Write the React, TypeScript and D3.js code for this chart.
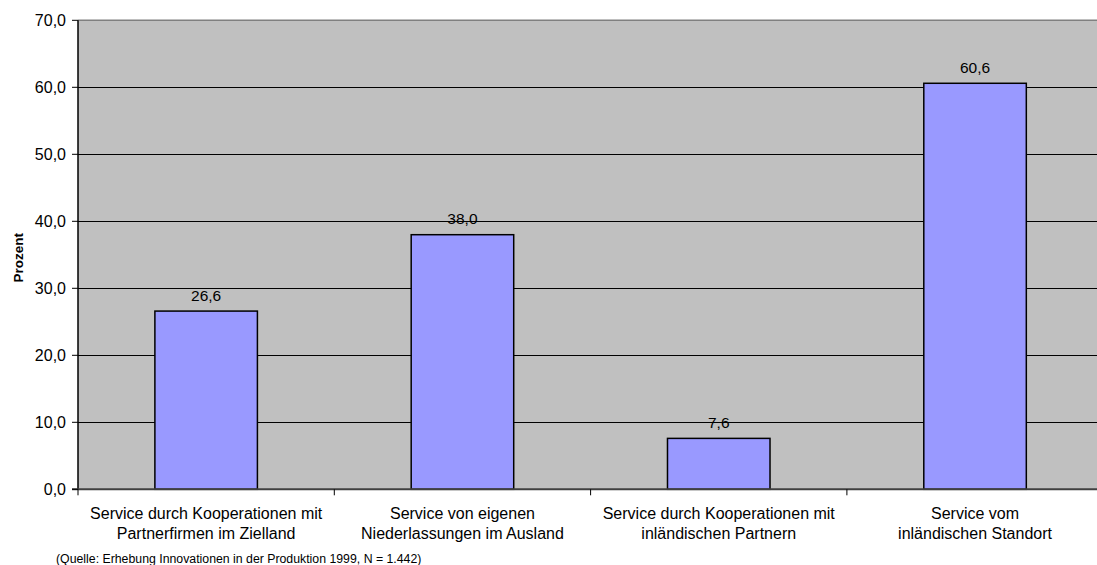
import React from "react";
import * as d3 from "d3";

const categories: string[][] = [
  ["Service durch Kooperationen mit", "Partnerfirmen im Zielland"],
  ["Service von eigenen", "Niederlassungen im Ausland"],
  ["Service durch Kooperationen mit", "inländischen Partnern"],
  ["Service vom", "inländischen Standort"],
];
const values: number[] = [26.6, 38.0, 7.6, 60.6];
const yTicks: number[] = [0, 10, 20, 30, 40, 50, 60, 70];
const yLabel = "Prozent";
const source = "(Quelle: Erhebung Innovationen in der Produktion 1999, N = 1.442)";

const fmt = (v: number) => v.toFixed(1).replace(".", ",");

export default function App() {
  const W = 1097, H = 565;
  const left = 78, top = 20.3, bottom = 489.3;
  const bandW = 256.3;
  const right = left + bandW * categories.length;
  const x = d3.scaleBand<number>().domain(d3.range(categories.length)).range([left, right]).paddingInner(0).paddingOuter(0);
  const y = d3.scaleLinear().domain([0, 70]).range([bottom, top]);
  const barW = x.bandwidth() * 0.4;
  const font = "Arial, 'Liberation Sans', sans-serif";
  return (
    <svg width={W} height={H} style={{ position: "absolute", left: 0, top: 0, background: "#fff" }} fontFamily={font}>
      <rect x={left} y={top} width={right - left} height={bottom - top} fill="#c0c0c0" />
      <line x1={left} x2={right} y1={top} y2={top} stroke="#808080" strokeWidth={1.5} />
      {yTicks.filter(t => t > 0 && t < 70).map(t => (
        <line key={t} x1={left} x2={right} y1={Math.round(y(t)) + 0.5} y2={Math.round(y(t)) + 0.5} stroke="#000" strokeWidth={1} />
      ))}
      {values.map((v, i) => {
        const cx = x(i)! + x.bandwidth() / 2;
        return (
          <g key={i}>
            <rect x={cx - barW / 2} y={y(v)} width={barW} height={bottom - y(v)} fill="#9999ff" stroke="#000" strokeWidth={1.5} />
            <text x={cx} y={y(v) - 10.5} textAnchor="middle" fontSize={15.5} fill="#000">{fmt(v)}</text>
          </g>
        );
      })}
      <line x1={left} x2={left} y1={top} y2={bottom} stroke="#000" strokeWidth={1.5} />
      <line x1={left - 6} x2={right} y1={bottom} y2={bottom} stroke="#404040" strokeWidth={2} />
      {yTicks.map(t => (
        <g key={t}>
          <line x1={left - 6} x2={left} y1={y(t)} y2={y(t)} stroke="#000" strokeWidth={1} />
          <text x={66} y={y(t) + 5.7} textAnchor="end" fontSize={16} fill="#000">{fmt(t)}</text>
        </g>
      ))}
      {d3.range(categories.length + 1).map(i => (
        <line key={i} x1={left + i * bandW} x2={left + i * bandW} y1={bottom} y2={bottom + 6} stroke="#000" strokeWidth={1} />
      ))}
      {categories.map((lines, i) => {
        const cx = x(i)! + x.bandwidth() / 2;
        return (
          <text key={i} x={cx} textAnchor="middle" fontSize={16} fill="#000">
            {lines.map((l, j) => (
              <tspan key={j} x={cx} y={519 + j * 20}>{l}</tspan>
            ))}
          </text>
        );
      })}
      <text transform={`translate(23, ${(top + bottom) / 2 + 3}) rotate(-90)`} textAnchor="middle" fontSize={13.5} fontWeight="bold" fill="#000">{yLabel}</text>
      <text x={56} y={563} fontSize={12.3} fill="#000">{source}</text>
    </svg>
  );
}
